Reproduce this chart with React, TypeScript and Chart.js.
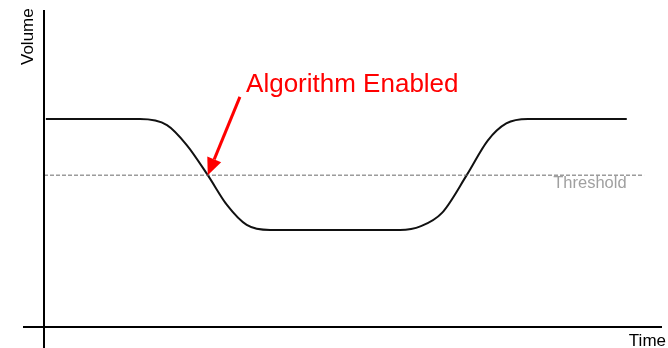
import React, { useEffect, useRef } from "react";
import { Chart, registerables } from "chart.js";

Chart.register(...registerables);

// Volume over time (arbitrary units, axis 0..100)
const curveX = [0.3, 15.5, 19.9, 23.1, 26.5, 29.6, 32.8, 36.6, 57.6, 61.0, 64.4, 68.4, 71.8, 74.8, 78.3, 94.3];
const curveY = [65.6, 65.6, 63.7, 57.4, 47.9, 38.5, 32.2, 30.6, 30.6, 31.8, 36.0, 47.9, 58.8, 64.2, 65.6, 65.6];

const thresholdX = [0, 97.1];
const thresholdValue = 47.9;

const axisTitles = ["Volume", "Time"];
const thresholdLabel = "Threshold";
const annotationLabel = "Algorithm Enabled";
// arrow from label down to where the curve crosses the threshold
const arrowFrom = { x: 31.7, y: 72.6 };
const arrowTo = { x: 26.5, y: 47.9 };
const annotationPos = { x: 32.7, y: 74.1 };
const thresholdLabelPos = { x: 82.4, y: 43.8 };

const FONT = "'Liberation Sans', Arial, sans-serif";

const overlayPlugin = {
  id: "overlay",
  afterDatasetsDraw(chart: any) {
    const { ctx, chartArea, scales } = chart;
    const xs = scales.x;
    const ys = scales.y;
    ctx.save();
    // axes
    ctx.strokeStyle = "#000";
    ctx.lineWidth = 2;
    ctx.beginPath();
    ctx.moveTo(chartArea.left, chartArea.top);
    ctx.lineTo(chartArea.left, chartArea.bottom + 21);
    ctx.moveTo(chartArea.left - 21, chartArea.bottom);
    ctx.lineTo(chartArea.right, chartArea.bottom);
    ctx.stroke();

    // axis titles
    ctx.fillStyle = "#000";
    ctx.font = `17px ${FONT}`;
    ctx.textBaseline = "alphabetic";
    ctx.save();
    ctx.translate(chartArea.left - 11, chartArea.top + 55);
    ctx.rotate(-Math.PI / 2);
    ctx.textAlign = "left";
    ctx.fillText(axisTitles[0], 0, 0);
    ctx.restore();
    ctx.textAlign = "right";
    ctx.fillText(axisTitles[1], chartArea.right + 4, chartArea.bottom + 19);

    // threshold label
    ctx.fillStyle = "#a0a0a0";
    ctx.font = `16.5px ${FONT}`;
    ctx.textAlign = "left";
    ctx.fillText(thresholdLabel, xs.getPixelForValue(thresholdLabelPos.x), ys.getPixelForValue(thresholdLabelPos.y));

    // annotation
    ctx.fillStyle = "#ff0000";
    ctx.font = `26px ${FONT}`;
    ctx.fillText(annotationLabel, xs.getPixelForValue(annotationPos.x), ys.getPixelForValue(annotationPos.y));

    // arrow
    const x0 = xs.getPixelForValue(arrowFrom.x);
    const y0 = ys.getPixelForValue(arrowFrom.y);
    const x1 = xs.getPixelForValue(arrowTo.x);
    const y1 = ys.getPixelForValue(arrowTo.y);
    const ang = Math.atan2(y1 - y0, x1 - x0);
    const headLen = 17;
    const headW = 7.5;
    const bx = x1 - headLen * Math.cos(ang);
    const by = y1 - headLen * Math.sin(ang);
    ctx.strokeStyle = "#ff0000";
    ctx.lineWidth = 3;
    ctx.beginPath();
    ctx.moveTo(x0, y0);
    ctx.lineTo(bx, by);
    ctx.stroke();
    ctx.beginPath();
    ctx.moveTo(x1, y1);
    ctx.lineTo(bx + headW * Math.sin(ang), by - headW * Math.cos(ang));
    ctx.lineTo(bx - headW * Math.sin(ang), by + headW * Math.cos(ang));
    ctx.closePath();
    ctx.fill();
    ctx.restore();
  },
};

export default function App() {
  const ref = useRef<HTMLCanvasElement | null>(null);
  useEffect(() => {
    if (!ref.current) return;
    const chart = new Chart(ref.current, {
      type: "line",
      data: {
        datasets: [
          {
            label: "Threshold",
            data: thresholdX.map((x) => ({ x, y: thresholdValue })),
            borderColor: "#6a6a6a",
            borderWidth: 1,
            borderDash: [4, 2],
            pointRadius: 0,
            tension: 0,
          },
          {
            label: "Volume",
            data: curveX.map((x, i) => ({ x, y: curveY[i] })),
            borderColor: "#111",
            borderWidth: 2,
            pointRadius: 0,
            cubicInterpolationMode: "monotone",
          },
        ],
      },
      options: {
        animation: false,
        responsive: false,
        layout: { padding: { left: 44, top: 10, right: 6, bottom: 21 } },
        plugins: { legend: { display: false }, tooltip: { enabled: false } },
        scales: {
          x: { type: "linear", min: 0, max: 100, display: false },
          y: { type: "linear", min: 0, max: 100, display: false },
        },
      },
      plugins: [overlayPlugin],
    });
    return () => chart.destroy();
  }, []);
  return (
    <div style={{ position: "fixed", left: 0, top: 0, width: 668, height: 348, background: "#fff" }}>
      <canvas ref={ref} width={668} height={348} />
    </div>
  );
}
